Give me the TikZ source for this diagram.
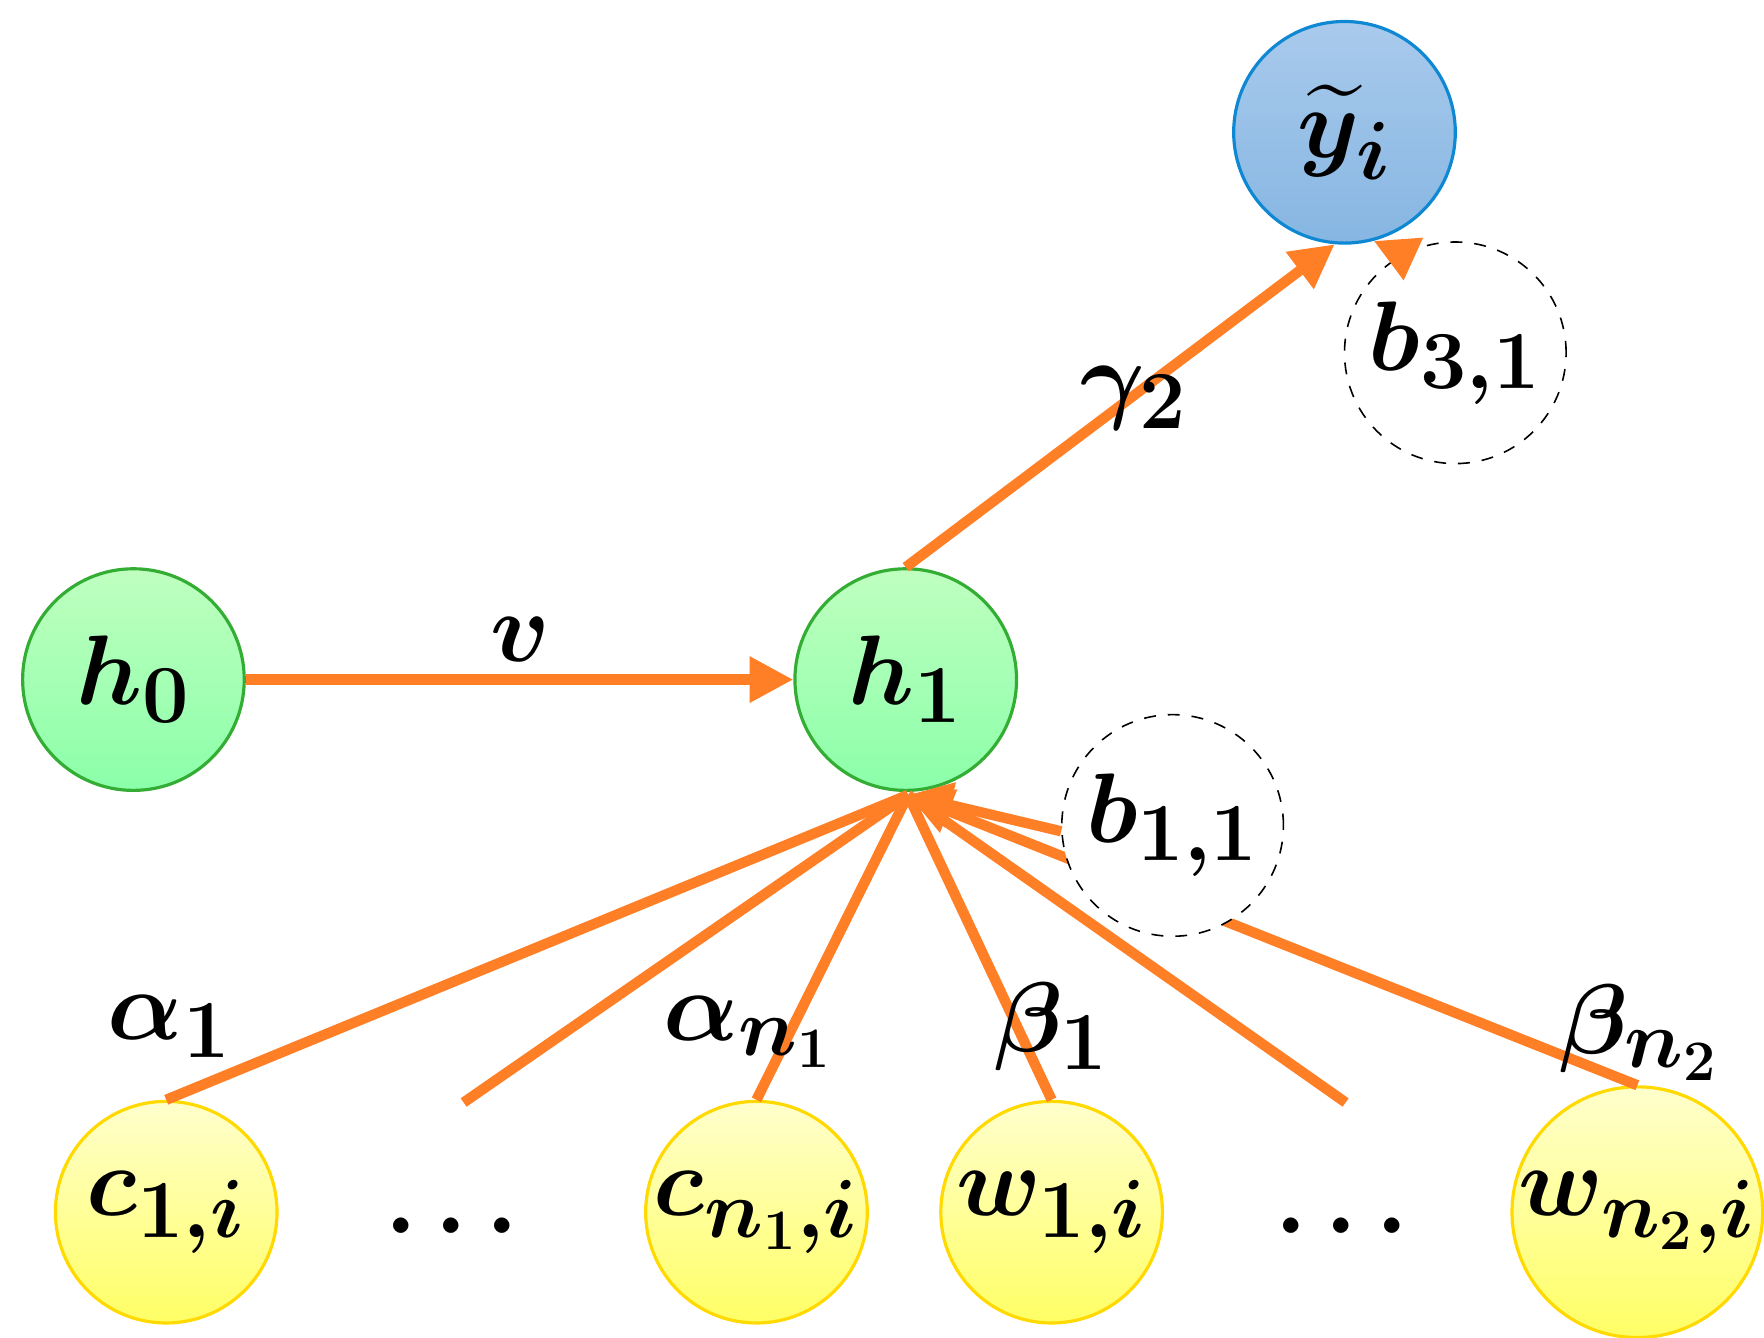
\documentclass[tikz,border=0pt]{standalone}
\usepackage{amsmath,bm}
\usetikzlibrary{arrows.meta,shadings}
\definecolor{org}{HTML}{FF7F27}
\definecolor{blt}{HTML}{A9CAEC}
\definecolor{blb}{HTML}{86B6E2}
\begin{document}
\mathversion{bold}
\begin{tikzpicture}[x=0.01cm,y=-0.01cm,
  nd/.style={circle,minimum size=196*0.01cm,inner sep=0pt,font=\fontsize{28}{32}\selectfont},
  gr/.style={nd,draw=green!60!black!80,thick,top color=green!25!white,bottom color=green!70!white!80!cyan!60},
  ye/.style={nd,draw=orange!30!yellow,thick,top color=yellow!20,bottom color=yellow!60},
  bl/.style={nd,draw=cyan!70!blue,thick,top color=blt,bottom color=blb},
  bi/.style={nd,draw,dashed,fill=white},
  ed/.style={org,line width=2.6pt},
  ar/.style={ed,-{Triangle[length=11pt,width=11pt]}},
  lb/.style={font=\fontsize{28}{32}\selectfont}]
\useasboundingbox (0,0) rectangle (1560,1183);
\node[gr] (h0) at (118,601) {$h_0$};
\node[gr] (h1) at (801,601) {$h_1$};
\node[bl] (y) at (1189,117) {$\widetilde{y}_i$};
\node[ye] (c1) at (147,1072) {$c_{1,i}$};
\node[ye] (cn) at (669,1072) {$c_{n_1,i}$};
\node[ye] (w1) at (930,1072) {$w_{1,i}$};
\node[ye] (wn) at (1448,1072) {$w_{n_2,i}$};
\node[lb] (d1) at (408,1085) {$\cdots$};
\node[lb] (d2) at (1195,1085) {$\cdots$};
\coordinate (t) at (803,703);
\coordinate (e1) at (410,975);
\coordinate (e2) at (1190,975);
\draw[ed] (c1.north) -- (t);
\draw[ed] (e1) -- (t);
\draw[ed] (cn.north) -- (t);
\draw[ed] (w1.north) -- (t);
\draw[ed] (e2) -- (t);
\draw[ar] (wn.north) -- (t);
\node[bi] (b1) at (1037,730) {$b_{1,1}$};
\node[bi] (b3) at (1287,312) {$b_{3,1}$};
\draw[ar] (b1.183) -- (t);
\draw[ar] (h0) -- (h1);
\draw[ar] (h1.north) -- (y.265);
\draw[ar] (b3.118) -- (y.285);
\node[lb] at (150,908) {$\alpha_1$};
\node[lb] at (662,913) {$\alpha_{n_1}$};
\node[lb] at (930,908) {$\beta_1$};
\node[lb] at (1450,913) {$\beta_{n_2}$};
\node[lb] at (460,566) {$v$};
\node[lb] at (1003,352) {$\gamma_2$};
\end{tikzpicture}
\end{document}
